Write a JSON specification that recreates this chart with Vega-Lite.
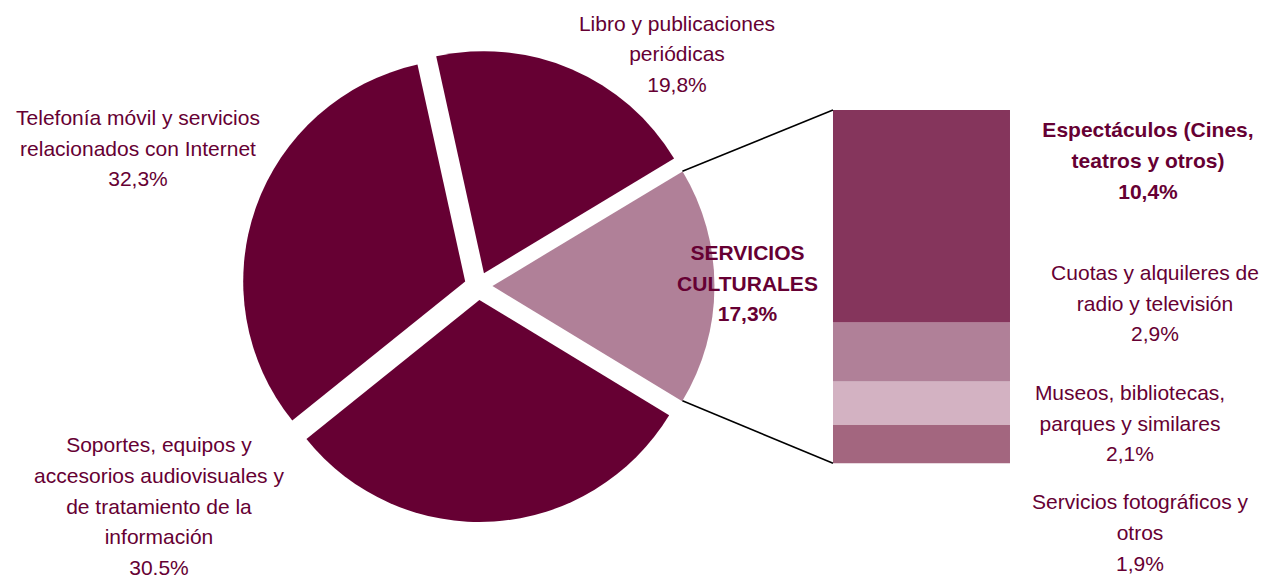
{
  "$schema": "https://vega.github.io/schema/vega-lite/v6.json",
  "width": 1265,
  "height": 576,
  "autosize": {"type": "none"},
  "padding": 0,
  "background": "white",
  "config": {
    "view": {"stroke": null},
    "text": {"font": "Liberation Sans", "fontSize": 21, "color": "#660033", "align": "center", "baseline": "alphabetic", "lineHeight": 30.7}
  },
  "datasets": {
    "pie": [
      {"cat": "Libro", "v": 19.8, "orden": 1},
      {"cat": "Culturales", "v": 17.3, "orden": 2},
      {"cat": "Soportes", "v": 30.5, "orden": 3},
      {"cat": "Telefonía", "v": 32.3, "orden": 4}
    ],
    "bar": [
      {"cat": "Fotográficos", "v": 1.9, "orden": 1},
      {"cat": "Museos", "v": 2.1, "orden": 2},
      {"cat": "Cuotas", "v": 2.9, "orden": 3},
      {"cat": "Espectáculos", "v": 10.4, "orden": 4}
    ],
    "labels": [
      {"cat": "Libro", "lineas": ["Libro y publicaciones", "periódicas", "19,8%"]},
      {"cat": "Telefonía", "lineas": ["Telefonía móvil y servicios", "relacionados con Internet", "32,3%"]},
      {"cat": "Soportes", "lineas": ["Soportes, equipos y", "accesorios audiovisuales y", "de tratamiento de la", "información", "30.5%"]},
      {"cat": "Culturales", "lineas": ["SERVICIOS", "CULTURALES", "17,3%"]},
      {"cat": "Espectáculos", "lineas": ["Espectáculos (Cines,", "teatros y otros)", "10,4%"]},
      {"cat": "Cuotas", "lineas": ["Cuotas y alquileres de", "radio y televisión", "2,9%"]},
      {"cat": "Museos", "lineas": ["Museos, bibliotecas,", "parques y similares", "2,1%"]},
      {"cat": "Fotográficos", "lineas": ["Servicios fotográficos y", "otros", "1,9%"]}
    ]
  },
  "layer": [
    {
      "data": {"name": "pie"},
      "transform": [
        {"stack": "v", "groupby": [], "sort": [{"field": "orden"}], "as": ["t0", "t1"]},
        {"filter": "datum.cat == 'Libro'"}
      ],
      "mark": {"type": "arc", "outerRadius": 222},
      "encoding": {
        "theta": {"field": "t0", "type": "quantitative", "scale": {"domain": [0, 99.9], "range": [-0.2168, 6.0664]}},
        "theta2": {"field": "t1"},
        "x": {"datum": 23.70, "type": "quantitative", "scale": {"domain": [0, 61.949], "nice": false, "zero": false}, "axis": null},
        "y": {"datum": 9.313, "type": "quantitative", "scale": {"domain": [-5.519, 22.689], "nice": false, "zero": false}, "axis": null},
        "color": {"field": "cat", "type": "nominal", "legend": null, "scale": {"domain": ["Libro", "Culturales", "Soportes", "Telefonía", "Espectáculos", "Cuotas", "Museos", "Fotográficos"], "range": ["#660033", "#B08098", "#660033", "#660033", "#85355C", "#B08098", "#D3B2C2", "#A3667F"]}}
      }
    },
    {
      "data": {"name": "pie"},
      "transform": [
        {"stack": "v", "groupby": [], "sort": [{"field": "orden"}], "as": ["t0", "t1"]},
        {"filter": "datum.cat == 'Culturales'"}
      ],
      "mark": {"type": "arc", "outerRadius": 222},
      "encoding": {
        "theta": {"field": "t0", "type": "quantitative", "scale": {"domain": [0, 99.9], "range": [-0.2168, 6.0664]}},
        "theta2": {"field": "t1"},
        "x": {"datum": 24.116, "type": "quantitative"},
        "y": {"datum": 8.683, "type": "quantitative"},
        "color": {"field": "cat", "type": "nominal", "legend": null}
      }
    },
    {
      "data": {"name": "pie"},
      "transform": [
        {"stack": "v", "groupby": [], "sort": [{"field": "orden"}], "as": ["t0", "t1"]},
        {"filter": "datum.cat == 'Soportes'"}
      ],
      "mark": {"type": "arc", "outerRadius": 222},
      "encoding": {
        "theta": {"field": "t0", "type": "quantitative", "scale": {"domain": [0, 99.9], "range": [-0.2168, 6.0664]}},
        "theta2": {"field": "t1"},
        "x": {"datum": 23.477, "type": "quantitative"},
        "y": {"datum": 7.999, "type": "quantitative"},
        "color": {"field": "cat", "type": "nominal", "legend": null}
      }
    },
    {
      "data": {"name": "pie"},
      "transform": [
        {"stack": "v", "groupby": [], "sort": [{"field": "orden"}], "as": ["t0", "t1"]},
        {"filter": "datum.cat == 'Telefonía'"}
      ],
      "mark": {"type": "arc", "outerRadius": 222},
      "encoding": {
        "theta": {"field": "t0", "type": "quantitative", "scale": {"domain": [0, 99.9], "range": [-0.2168, 6.0664]}},
        "theta2": {"field": "t1"},
        "x": {"datum": 22.782, "type": "quantitative"},
        "y": {"datum": 8.907, "type": "quantitative"},
        "color": {"field": "cat", "type": "nominal", "legend": null}
      }
    },
    {
      "data": {"name": "bar"},
      "transform": [
        {"stack": "v", "groupby": [], "sort": [{"field": "orden"}], "as": ["y0", "y1"]}
      ],
      "mark": {"type": "bar"},
      "encoding": {
        "x": {"datum": 40.793, "type": "quantitative"},
        "x2": {"datum": 49.461},
        "y": {"field": "y0", "type": "quantitative"},
        "y2": {"field": "y1"},
        "color": {"field": "cat", "type": "nominal", "legend": null}
      }
    },
    {
      "data": {"values": [{}]},
      "mark": {"type": "rule", "color": "black", "strokeWidth": 1.5},
      "encoding": {
        "x": {"datum": 33.42, "type": "quantitative"},
        "y": {"datum": 14.305, "type": "quantitative"},
        "x2": {"datum": 40.793},
        "y2": {"datum": 17.3}
      }
    },
    {
      "data": {"values": [{}]},
      "mark": {"type": "rule", "color": "black", "strokeWidth": 1.5},
      "encoding": {
        "x": {"datum": 33.42, "type": "quantitative"},
        "y": {"datum": 3.061, "type": "quantitative"},
        "x2": {"datum": 40.793},
        "y2": {"datum": 0}
      }
    },
    {
      "data": {"name": "labels"},
      "transform": [{"filter": "datum.cat == 'Libro'"}],
      "mark": {"type": "text"},
      "encoding": {"text": {"field": "lineas"}, "x": {"datum": 33.154, "type": "quantitative"}, "y": {"datum": 21.185, "type": "quantitative"}}
    },
    {
      "data": {"name": "labels"},
      "transform": [{"filter": "datum.cat == 'Telefonía'"}],
      "mark": {"type": "text"},
      "encoding": {"text": {"field": "lineas"}, "x": {"datum": 6.758, "type": "quantitative"}, "y": {"datum": 16.567, "type": "quantitative"}}
    },
    {
      "data": {"name": "labels"},
      "transform": [{"filter": "datum.cat == 'Soportes'"}],
      "mark": {"type": "text"},
      "encoding": {"text": {"field": "lineas"}, "x": {"datum": 7.786, "type": "quantitative"}, "y": {"datum": 0.539, "type": "quantitative"}}
    },
    {
      "data": {"name": "labels"},
      "transform": [{"filter": "datum.cat == 'Culturales'"}],
      "mark": {"type": "text", "fontWeight": "bold"},
      "encoding": {"text": {"field": "lineas"}, "x": {"datum": 36.606, "type": "quantitative"}, "y": {"datum": 9.956, "type": "quantitative"}}
    },
    {
      "data": {"name": "labels"},
      "transform": [{"filter": "datum.cat == 'Espectáculos'"}],
      "mark": {"type": "text", "fontWeight": "bold"},
      "encoding": {"text": {"field": "lineas"}, "x": {"datum": 56.219, "type": "quantitative"}, "y": {"datum": 15.965, "type": "quantitative"}}
    },
    {
      "data": {"name": "labels"},
      "transform": [{"filter": "datum.cat == 'Cuotas'"}],
      "mark": {"type": "text"},
      "encoding": {"text": {"field": "lineas"}, "x": {"datum": 56.562, "type": "quantitative"}, "y": {"datum": 8.976, "type": "quantitative"}}
    },
    {
      "data": {"name": "labels"},
      "transform": [{"filter": "datum.cat == 'Museos'"}],
      "mark": {"type": "text"},
      "encoding": {"text": {"field": "lineas"}, "x": {"datum": 55.338, "type": "quantitative"}, "y": {"datum": 3.1, "type": "quantitative"}}
    },
    {
      "data": {"name": "labels"},
      "transform": [{"filter": "datum.cat == 'Fotográficos'"}],
      "mark": {"type": "text"},
      "encoding": {"text": {"field": "lineas"}, "x": {"datum": 55.828, "type": "quantitative"}, "y": {"datum": -2.253, "type": "quantitative"}}
    }
  ]
}
